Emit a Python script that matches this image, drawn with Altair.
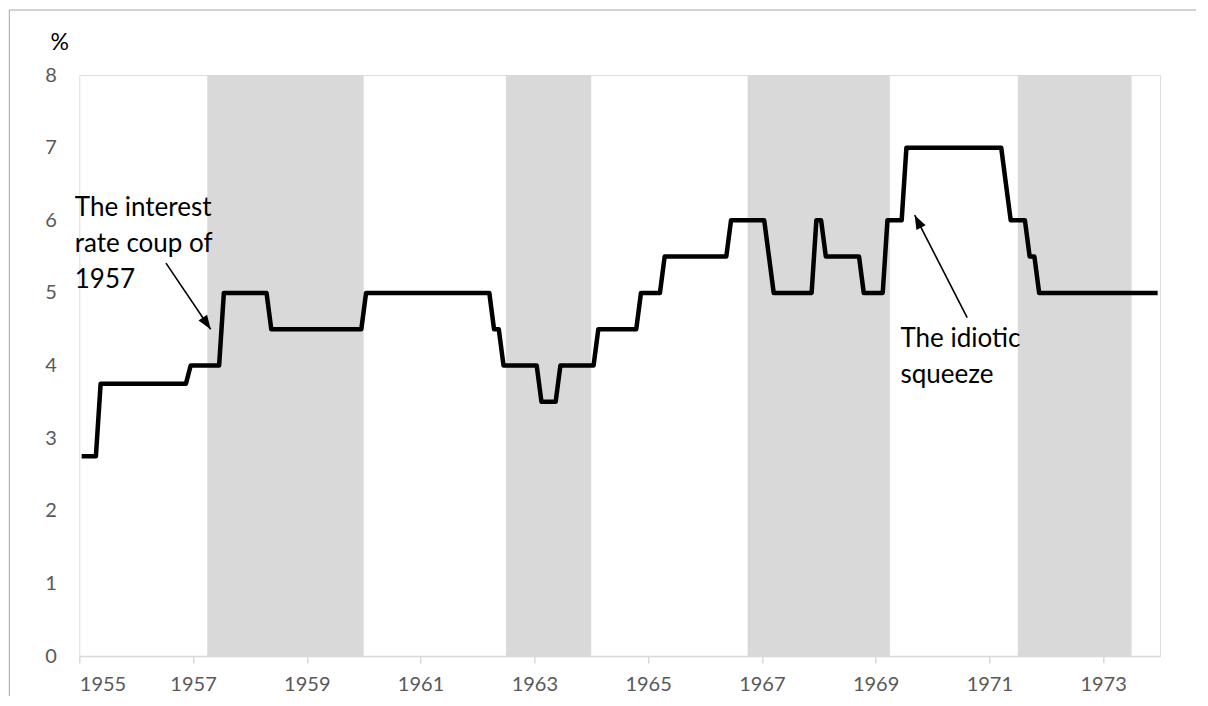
import altair as alt
import pandas as pd

# ---- data -------------------------------------------------------------
years = list(range(1955, 1974))
month_numbers = list(range(1, 13))

# monthly discount rate (%) per year
rate_1955 = [2.75, 2.75, 2.75, 2.75, 3.75, 3.75, 3.75, 3.75, 3.75, 3.75, 3.75, 3.75]
rate_1956 = [3.75, 3.75, 3.75, 3.75, 3.75, 3.75, 3.75, 3.75, 3.75, 3.75, 3.75, 4.0]
rate_1957 = [4.0, 4.0, 4.0, 4.0, 4.0, 4.0, 5.0, 5.0, 5.0, 5.0, 5.0, 5.0]
rate_1958 = [5.0, 5.0, 5.0, 5.0, 4.5, 4.5, 4.5, 4.5, 4.5, 4.5, 4.5, 4.5]
rate_1959 = [4.5, 4.5, 4.5, 4.5, 4.5, 4.5, 4.5, 4.5, 4.5, 4.5, 4.5, 4.5]
rate_1960 = [5.0, 5.0, 5.0, 5.0, 5.0, 5.0, 5.0, 5.0, 5.0, 5.0, 5.0, 5.0]
rate_1961 = [5.0, 5.0, 5.0, 5.0, 5.0, 5.0, 5.0, 5.0, 5.0, 5.0, 5.0, 5.0]
rate_1962 = [5.0, 5.0, 5.0, 4.5, 4.5, 4.0, 4.0, 4.0, 4.0, 4.0, 4.0, 4.0]
rate_1963 = [4.0, 3.5, 3.5, 3.5, 3.5, 4.0, 4.0, 4.0, 4.0, 4.0, 4.0, 4.0]
rate_1964 = [4.0, 4.5, 4.5, 4.5, 4.5, 4.5, 4.5, 4.5, 4.5, 4.5, 5.0, 5.0]
rate_1965 = [5.0, 5.0, 5.0, 5.5, 5.5, 5.5, 5.5, 5.5, 5.5, 5.5, 5.5, 5.5]
rate_1966 = [5.5, 5.5, 5.5, 5.5, 5.5, 6.0, 6.0, 6.0, 6.0, 6.0, 6.0, 6.0]
rate_1967 = [6.0, 5.5, 5.0, 5.0, 5.0, 5.0, 5.0, 5.0, 5.0, 5.0, 5.0, 6.0]
rate_1968 = [6.0, 5.5, 5.5, 5.5, 5.5, 5.5, 5.5, 5.5, 5.5, 5.0, 5.0, 5.0]
rate_1969 = [5.0, 5.0, 6.0, 6.0, 6.0, 6.0, 7.0, 7.0, 7.0, 7.0, 7.0, 7.0]
rate_1970 = [7.0, 7.0, 7.0, 7.0, 7.0, 7.0, 7.0, 7.0, 7.0, 7.0, 7.0, 7.0]
rate_1971 = [7.0, 7.0, 7.0, 6.5, 6.0, 6.0, 6.0, 6.0, 5.5, 5.5, 5.0, 5.0]
rate_1972 = [5.0, 5.0, 5.0, 5.0, 5.0, 5.0, 5.0, 5.0, 5.0, 5.0, 5.0, 5.0]
rate_1973 = [5.0, 5.0, 5.0, 5.0, 5.0, 5.0, 5.0, 5.0, 5.0, 5.0, 5.0, 5.0]

rates_by_year = [rate_1955, rate_1956, rate_1957, rate_1958, rate_1959, rate_1960,
                 rate_1961, rate_1962, rate_1963, rate_1964, rate_1965, rate_1966,
                 rate_1967, rate_1968, rate_1969, rate_1970, rate_1971, rate_1972,
                 rate_1973]

# shaded periods (decimal years)
band_start = [1957.25, 1962.5, 1966.75, 1971.5]
band_end = [1960.0, 1964.0, 1969.25, 1973.5]

x_ticks = [1955, 1957, 1959, 1961, 1963, 1965, 1967, 1969, 1971, 1973]
y_ticks = [0, 1, 2, 3, 4, 5, 6, 7, 8]

# annotations
note_text = ["The interest\nrate coup of\n1957", "The idiotic\nsqueeze"]
note_t = [1954.92, 1969.436]
note_v = [6.06, 4.26]

arrow_tail_t = [1956.524, 1970.61]
arrow_tail_v = [5.41, 4.66]
arrow_tip_t = [1957.309, 1969.687]
arrow_tip_v = [4.50, 6.07]
arrow_angle = [146, 333]

# ---- tables -----------------------------------------------------------
rows = []
for y, vals in zip(years, rates_by_year):
    for m, v in zip(month_numbers, vals):
        rows.append({"t": y + (m - 0.5) / 12.0, "rate": v})
line_df = pd.DataFrame(rows)
band_df = pd.DataFrame({"start": band_start, "end": band_end})
note_df = pd.DataFrame({"text": note_text, "t": note_t, "v": note_v})
arrow_df = pd.DataFrame({"t": arrow_tail_t, "v": arrow_tail_v,
                         "t2": arrow_tip_t, "v2": arrow_tip_v,
                         "angle": arrow_angle})

FONT = "Lato"
W, H = 1080.7, 581

xscale = alt.Scale(domain=[1955, 1974], nice=False, zero=False)
yscale = alt.Scale(domain=[0, 8], nice=False, zero=True)

x_axis = alt.Axis(values=x_ticks, format="d", title=None, grid=False,
                  domainColor="#d9d9d9", domainWidth=1.5,
                  tickColor="#d9d9d9", tickWidth=1.5, tickSize=7,
                  labelColor="#595959", labelFont=FONT, labelFontSize=20,
                  labelPadding=11)
y_axis = alt.Axis(values=y_ticks, format="d", title="%", grid=False, domain=False,
                  ticks=False, tickSize=0, labelPadding=23,
                  labelColor="#595959", labelFont=FONT, labelFontSize=20,
                  titleAngle=0, titleAlign="center", titleBaseline="middle",
                  titleX=-20, titleY=-33, titleFont=FONT, titleFontSize=23,
                  titleFontWeight="normal", titleColor="#000000")

frame_top = alt.Chart(pd.DataFrame({"k": [0]})).mark_rule(
    color="#a6a6a6", strokeWidth=1).encode(
    x=alt.value(-70), x2=alt.value(W + 40), y=alt.value(-65))
frame_left = alt.Chart(pd.DataFrame({"k": [0]})).mark_rule(
    color="#a6a6a6", strokeWidth=1).encode(
    x=alt.value(-70), y=alt.value(-65), y2=alt.value(H + 45))

bands = alt.Chart(band_df).mark_rect(color="#d9d9d9").encode(
    x=alt.X("start:Q", scale=xscale, axis=x_axis),
    x2="end:Q",
    y=alt.Y(datum=0, scale=yscale, axis=y_axis),
    y2=alt.Y2(datum=8),
)

line = alt.Chart(line_df).mark_line(
    color="#000000", strokeWidth=4.5, strokeJoin="round").encode(
    x=alt.X("t:Q", scale=xscale),
    y=alt.Y("rate:Q", scale=yscale),
)

arrow_lines = alt.Chart(arrow_df).mark_rule(color="#000000", strokeWidth=1.6).encode(
    x=alt.X("t:Q", scale=xscale), y=alt.Y("v:Q", scale=yscale),
    x2="t2:Q", y2="v2:Q",
)

arrow_heads = alt.Chart(arrow_df).mark_point(
    shape="M0,0 L0.37,1 L-0.37,1 Z", filled=True, size=784,
    color="#000000", opacity=1, strokeWidth=0).encode(
    x=alt.X("t2:Q", scale=xscale), y=alt.Y("v2:Q", scale=yscale),
    angle=alt.Angle("angle:Q", scale=None),
)

notes = alt.Chart(note_df).mark_text(
    align="left", baseline="alphabetic", font=FONT, fontSize=26,
    color="#000000", lineBreak="\n", lineHeight=36).encode(
    x=alt.X("t:Q", scale=xscale), y=alt.Y("v:Q", scale=yscale),
    text="text:N",
)

chart = alt.layer(frame_top, frame_left, bands, line, arrow_lines, arrow_heads, notes).properties(
    width=W, height=H,
    autosize=alt.AutoSizeParams(type="none"),
    padding={"left": 71.3, "top": 67, "right": 36, "bottom": 40},
).configure_view(stroke=None).configure(background="white")

chart.save("out.html", embed_options={"renderer": "svg", "actions": False})
